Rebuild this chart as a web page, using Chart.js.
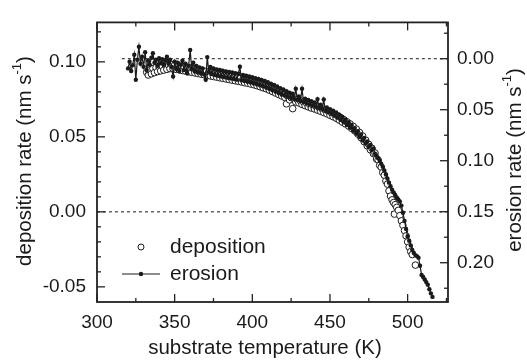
<!DOCTYPE html>
<html>
<head>
<meta charset="utf-8">
<script src="https://cdn.jsdelivr.net/npm/chart.js@4/dist/chart.umd.min.js"></script>
<style>
  body { margin: 0; background: #fff; }
  canvas { display: block; }
</style>
</head>
<body>
<canvas id="rateChart" width="527" height="360"></canvas>
<script>
// deposition rate (nm/s) vs substrate temperature (K), open circles, left axis
const depTemp = [
  332, 333, 334, 335, 336, 337, 338, 339, 340, 341,
  342, 343, 344, 345, 346, 347, 348, 349, 350, 351,
  352, 353, 354, 355, 356, 357, 358, 359, 360, 361,
  362, 363, 364, 365, 366, 367, 368, 369, 370, 371,
  372, 373, 374, 375, 376, 377, 378, 379, 380, 381,
  382, 383, 384, 385, 386, 387, 388, 389, 390, 391,
  392, 393, 394, 395, 396, 397, 398, 399, 400, 401,
  402, 403, 404, 405, 406, 407, 408, 409, 410, 411,
  412, 413, 414, 415, 416, 417, 418, 419, 420, 421,
  422, 423, 424, 425, 426, 427, 428, 429, 430, 431,
  432, 433, 434, 435, 436, 437, 438, 439, 440, 441,
  442, 443, 444, 445, 446, 447, 448, 449, 450, 451,
  452, 453, 454, 455, 456, 457, 458, 459, 460, 461,
  462, 463, 464, 465, 466, 467, 468, 469, 470, 471,
  472, 473, 474, 475, 476, 477, 478, 479, 480, 481,
  482, 483, 484, 485, 486, 487, 488, 489, 490, 491,
  491.5, 492, 493, 494, 495, 496, 497, 498, 499, 500,
  501, 502, 503, 505
];
const depRate = [
  0.0930, 0.0912, 0.0945, 0.0920, 0.0955, 0.0928, 0.0962, 0.0935, 0.0968, 0.0940,
  0.0972, 0.0945, 0.0978, 0.0950, 0.0980, 0.0955, 0.0982, 0.0952, 0.0978, 0.0950,
  0.0975, 0.0946, 0.0972, 0.0942, 0.0968, 0.0938, 0.0964, 0.0934, 0.0960, 0.0930,
  0.0955, 0.0926, 0.0950, 0.0922, 0.0946, 0.0918, 0.0941, 0.0914, 0.0936, 0.0910,
  0.0932, 0.0906, 0.0927, 0.0902, 0.0922, 0.0898, 0.0918, 0.0894, 0.0914, 0.0890,
  0.0910, 0.0886, 0.0905, 0.0882, 0.0901, 0.0878, 0.0897, 0.0874, 0.0893, 0.0870,
  0.0888, 0.0866, 0.0884, 0.0861, 0.0879, 0.0857, 0.0874, 0.0852, 0.0869, 0.0847,
  0.0863, 0.0841, 0.0857, 0.0834, 0.0850, 0.0827, 0.0843, 0.0820, 0.0835, 0.0811,
  0.0826, 0.0802, 0.0816, 0.0792, 0.0806, 0.0782, 0.0796, 0.0772, 0.0786, 0.0762,
  0.0720, 0.0768, 0.0746, 0.0762, 0.0688, 0.0752, 0.0732, 0.0748, 0.0726, 0.0740,
  0.0716, 0.0732, 0.0708, 0.0724, 0.0700, 0.0716, 0.0692, 0.0709, 0.0686, 0.0702,
  0.0678, 0.0694, 0.0670, 0.0686, 0.0662, 0.0678, 0.0654, 0.0670, 0.0644, 0.0660,
  0.0634, 0.0650, 0.0624, 0.0640, 0.0612, 0.0628, 0.0598, 0.0614, 0.0586, 0.0600,
  0.0572, 0.0586, 0.0556, 0.0570, 0.0540, 0.0552, 0.0518, 0.0530, 0.0494, 0.0506,
  0.0468, 0.0478, 0.0440, 0.0450, 0.0414, 0.0424, 0.0388, 0.0392, 0.0352, 0.0346,
  0.0310, 0.0298, 0.0262, 0.0244, 0.0206, 0.0185, 0.0140, 0.0105, 0.0080, 0.0062,
  -0.0015, 0.0048, 0.0030, 0.0010, -0.0025, -0.0060, -0.0090, -0.0125, -0.0160, -0.0200,
  -0.0235, -0.0265, -0.0285, -0.0355
];

// erosion rate (nm/s), filled dots with line, right axis (reversed)
const eroTemp = [
  320, 321, 322, 323, 324, 325, 326, 327, 328, 329,
  330, 331, 332, 333, 334, 335, 336, 337, 338, 339,
  340, 341, 342, 343, 344, 345, 346, 347, 348, 349,
  350, 351, 352, 353, 354, 355, 356, 357, 358, 359,
  360, 361, 362, 363, 364, 365, 366, 367, 368, 369,
  370, 371, 372, 373, 374, 375, 376, 377, 378, 379,
  380, 381, 382, 383, 384, 385, 386, 387, 388, 389,
  390, 391, 392, 393, 394, 395, 396, 397, 398, 399,
  400, 401, 402, 403, 404, 405, 406, 407, 408, 409,
  410, 411, 412, 413, 414, 415, 416, 417, 418, 419,
  420, 421, 422, 423, 424, 425, 426, 427, 428, 429,
  430, 431, 432, 433, 434, 435, 436, 437, 438, 439,
  440, 441, 442, 443, 444, 445, 446, 447, 448, 449,
  450, 451, 452, 453, 454, 455, 456, 457, 458, 459,
  460, 461, 462, 463, 464, 465, 466, 467, 468, 469,
  470, 471, 472, 473, 474, 475, 476, 477, 478, 479,
  480, 481, 482, 483, 484, 485, 486, 487, 488, 489,
  490, 491, 492, 493, 494, 495, 496, 497, 498, 499,
  500, 501, 502, 503, 504, 505, 506, 507, 508, 509,
  510, 511, 512, 513, 514, 515, 516
];
const eroRate = [
  0.0095, 0.0030, 0.0120, 0.0063, -0.0040, 0.0206, 0.0010, -0.0118, 0.0050, -0.0020,
  0.0080, -0.0064, 0.0110, 0.0020, 0.0060, -0.0010, -0.0054, 0.0040, 0.0010, 0.0070,
  -0.0005, 0.0045, 0.0005, 0.0060, 0.0015, -0.0020, 0.0050, 0.0010, 0.0080, 0.0174,
  0.0030, 0.0100, 0.0040, 0.0120, 0.0060, 0.0020, 0.0110, 0.0050, 0.0143, 0.0070,
  -0.0086, 0.0100, 0.0040, 0.0125, 0.0070, 0.0135, 0.0085, 0.0145, 0.0095, 0.0155,
  0.0206, -0.0016, 0.0130, 0.0080, 0.0150, 0.0095, 0.0160, 0.0105, 0.0168, 0.0110,
  0.0175, 0.0118, 0.0180, 0.0125, 0.0186, 0.0130, 0.0192, 0.0135, 0.0198, 0.0142,
  0.0205, 0.0148, 0.0079, 0.0212, 0.0160, 0.0218, 0.0166, 0.0226, 0.0174, 0.0234,
  0.0182, 0.0242, 0.0190, 0.0250, 0.0198, 0.0260, 0.0208, 0.0270, 0.0218, 0.0282,
  0.0230, 0.0294, 0.0244, 0.0308, 0.0258, 0.0322, 0.0272, 0.0336, 0.0288, 0.0350,
  0.0302, 0.0362, 0.0318, 0.0374, 0.0332, 0.0386, 0.0344, 0.0396, 0.0295, 0.0404,
  0.0370, 0.0414, 0.0295, 0.0424, 0.0392, 0.0436, 0.0404, 0.0448, 0.0416, 0.0460,
  0.0428, 0.0472, 0.0396, 0.0484, 0.0452, 0.0496, 0.0400, 0.0510, 0.0478, 0.0524,
  0.0494, 0.0540, 0.0510, 0.0558, 0.0528, 0.0578, 0.0548, 0.0600, 0.0570, 0.0624,
  0.0596, 0.0650, 0.0622, 0.0678, 0.0650, 0.0706, 0.0680, 0.0736, 0.0710, 0.0768,
  0.0742, 0.0800, 0.0776, 0.0832, 0.0810, 0.0864, 0.0846, 0.0896, 0.0880, 0.0930,
  0.0950, 0.0975, 0.1000, 0.1030, 0.1060, 0.1095, 0.1135, 0.1175, 0.1215, 0.1250,
  0.1285, 0.1310, 0.1335, 0.1360, 0.1380, 0.1400, 0.1440, 0.1510, 0.1590, 0.1670,
  0.1740, 0.1785, 0.1830, 0.1875, 0.1905, 0.1925, 0.1935, 0.1950, 0.2030, 0.2120,
  0.2140, 0.2165, 0.2190, 0.2215, 0.2260, 0.2300, 0.2335
];

// dashed reference lines (zero deposition, zero erosion)
const depZeroLine = [{ x: 300, y: 0 }, { x: 526, y: 0 }];
const eroZeroLine = [{ x: 316, y: 0 }, { x: 526, y: 0 }];

// ticks
const tempTicks = [300, 350, 400, 450, 500];
const tempMinor = [325, 375, 425, 475, 525];
const depTicks = [-0.05, 0.00, 0.05, 0.10];
const depMinor = [-0.04, -0.03, -0.02, -0.01, 0.01, 0.02, 0.03, 0.04, 0.06, 0.07, 0.08, 0.09, 0.11, 0.12];
const eroTicks = [0.00, 0.05, 0.10, 0.15, 0.20];
const eroMinor = [-0.025, 0.025, 0.075, 0.125, 0.175, 0.225];

const FONT = '"Liberation Sans", Arial, sans-serif';
const INK = '#1a1a1a';

const toPoints = (xs, ys) => xs.map((x, i) => ({ x: x, y: ys[i] }));

const framePlugin = {
  id: 'frame',
  afterDraw(chart) {
    const { ctx, chartArea: a, scales } = chart;
    const sx = scales.x, sl = scales.yDep, sr = scales.yEro;
    ctx.save();
    ctx.strokeStyle = '#222';
    ctx.lineWidth = 1.3;
    const seg = (x1, y1, x2, y2) => {
      ctx.beginPath(); ctx.moveTo(x1, y1); ctx.lineTo(x2, y2); ctx.stroke();
    };
    // inward ticks
    tempTicks.forEach(v => { const p = sx.getPixelForValue(v); seg(p, a.bottom, p, a.bottom - 8); seg(p, a.top, p, a.top + 8); });
    tempMinor.forEach(v => { const p = sx.getPixelForValue(v); seg(p, a.bottom, p, a.bottom - 4); seg(p, a.top, p, a.top + 4); });
    depTicks.forEach(v => { const p = sl.getPixelForValue(v); seg(a.left, p, a.left + 8, p); });
    depMinor.forEach(v => { const p = sl.getPixelForValue(v); seg(a.left, p, a.left + 4, p); });
    eroTicks.forEach(v => { const p = sr.getPixelForValue(v); seg(a.right, p, a.right - 8, p); });
    eroMinor.forEach(v => { const p = sr.getPixelForValue(v); seg(a.right, p, a.right - 4, p); });
    // box
    ctx.lineWidth = 1.8;
    ctx.strokeRect(a.left, a.top, a.right - a.left, a.bottom - a.top);

    // axis titles
    ctx.fillStyle = INK;
    const title = (main, sup, tail, x, y, rot) => {
      ctx.save();
      ctx.translate(x, y);
      ctx.rotate(rot);
      ctx.textBaseline = 'middle';
      ctx.textAlign = 'left';
      ctx.font = '20.5px ' + FONT;
      const w1 = ctx.measureText(main).width;
      const w3 = ctx.measureText(tail).width;
      ctx.font = '13px ' + FONT;
      const w2 = ctx.measureText(sup).width;
      let cx = -(w1 + w2 + w3) / 2;
      ctx.font = '20.5px ' + FONT;
      ctx.fillText(main, cx, 0); cx += w1;
      ctx.font = '13px ' + FONT;
      ctx.fillText(sup, cx, -8); cx += w2;
      ctx.font = '20.5px ' + FONT;
      ctx.fillText(tail, cx, 0);
      ctx.restore();
    };
    title('deposition rate (nm s', '-1', ')', 25, 161, -Math.PI / 2);
    title('erosion rate (nm s', '-1', ')', 515, 160, -Math.PI / 2);
    title('substrate temperature (K)', '', '', 265, 348, 0);

    // legend
    ctx.font = '21px ' + FONT;
    ctx.textBaseline = 'middle';
    ctx.textAlign = 'left';
    ctx.lineWidth = 1;
    ctx.beginPath(); ctx.arc(141, 247, 3, 0, Math.PI * 2);
    ctx.fillStyle = '#fff'; ctx.fill(); ctx.strokeStyle = INK; ctx.stroke();
    ctx.fillStyle = INK;
    ctx.fillText('deposition', 170, 247);
    seg(122, 274, 160, 274);
    ctx.beginPath(); ctx.arc(141, 274, 2.2, 0, Math.PI * 2); ctx.fill();
    ctx.fillText('erosion', 170, 274);
    ctx.restore();
  }
};

const ctx = document.getElementById('rateChart').getContext('2d');

// erosion is listed first so it is drawn over the open circles
const myChart = new Chart(ctx, {
  type: 'scatter',
  data: {
    datasets: [
      {
        label: 'erosion',
        data: toPoints(eroTemp, eroRate),
        yAxisID: 'yEro',
        showLine: true,
        borderColor: INK,
        borderWidth: 1.2,
        tension: 0,
        pointRadius: 2.2,
        pointBorderWidth: 0,
        pointBackgroundColor: INK
      },
      {
        label: 'deposition',
        data: toPoints(depTemp, depRate),
        yAxisID: 'yDep',
        showLine: false,
        pointRadius: 3.3,
        pointBorderWidth: 1,
        pointBackgroundColor: '#fff',
        pointBorderColor: INK
      },
      {
        data: depZeroLine,
        yAxisID: 'yDep',
        showLine: true,
        borderColor: INK,
        borderWidth: 1,
        borderDash: [3, 3],
        pointRadius: 0
      },
      {
        data: eroZeroLine,
        yAxisID: 'yEro',
        showLine: true,
        borderColor: INK,
        borderWidth: 1,
        borderDash: [3, 3],
        pointRadius: 0
      }
    ]
  },
  options: {
    responsive: false,
    animation: false,
    events: [],
    layout: { padding: { top: 14, left: 0, right: 0, bottom: 0 } },
    plugins: { legend: { display: false }, tooltip: { enabled: false } },
    scales: {
      x: {
        type: 'linear',
        position: 'bottom',
        min: 300,
        max: 526,
        grid: { display: false, drawTicks: false },
        border: { display: false },
        afterBuildTicks: s => { s.ticks = tempTicks.map(v => ({ value: v })); },
        afterFit: s => { s.height = 58; },
        ticks: {
          font: { family: FONT, size: 19 },
          color: INK,
          padding: 9,
          maxRotation: 0,
          autoSkip: false,
          callback: v => String(v)
        }
      },
      yDep: {
        type: 'linear',
        position: 'left',
        min: -0.0601,
        max: 0.1263,
        grid: { display: false, drawTicks: false },
        border: { display: false },
        afterBuildTicks: s => { s.ticks = depTicks.map(v => ({ value: v })); },
        afterFit: s => { s.width = 97; },
        ticks: {
          font: { family: FONT, size: 19 },
          color: INK,
          padding: 11,
          callback: v => v.toFixed(2)
        }
      },
      yEro: {
        type: 'linear',
        position: 'right',
        reverse: true,
        min: -0.0356,
        max: 0.2385,
        grid: { display: false, drawTicks: false },
        border: { display: false },
        afterBuildTicks: s => { s.ticks = eroTicks.map(v => ({ value: v })); },
        afterFit: s => { s.width = 79; },
        ticks: {
          font: { family: FONT, size: 19 },
          color: INK,
          padding: 9,
          callback: v => v.toFixed(2)
        }
      }
    }
  },
  plugins: [framePlugin]
});
</script>
</body>
</html>
